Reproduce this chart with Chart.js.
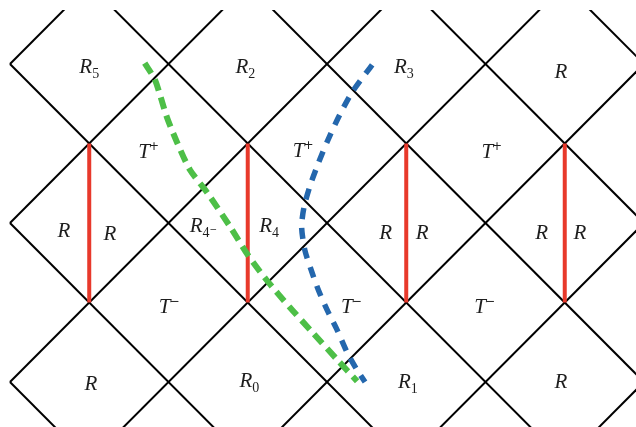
<!DOCTYPE html>
<html>
<head>
<meta charset="utf-8">
<script src="https://cdn.jsdelivr.net/npm/chart.js@4/dist/chart.umd.min.js"></script>
<style>
  html, body { margin: 0; padding: 0; background: #fff; }
  canvas { display: block; }
</style>
</head>
<body>
<canvas id="diagram" width="636" height="427"></canvas>
<script>
// grid units: 1 unit = half a diamond, vertices where x + y is even
const fallingLines = [0, 2, 4, 6, 8, 10, 12];   // x + y = s
const risingLines = [4, 2, 0, -2, -4, -6, -8];  // y - x = d
const horizonX = [1, 3, 5, 7];
const horizonSpan = [1, 3];

const greenX = [1.70, 1.83, 1.98, 2.11, 2.27, 2.49, 2.78, 3.00, 3.24, 3.53, 3.82, 4.13, 4.38];
const greenY = [4.01, 3.80, 3.33, 3.01, 2.67, 2.38, 1.95, 1.60, 1.28, 0.94, 0.62, 0.28, 0.01];
const blueX = [4.57, 4.32, 4.16, 4.01, 3.89, 3.79, 3.71, 3.68, 3.72, 3.80, 3.89, 4.00, 4.13, 4.26, 4.38, 4.48];
const blueY = [3.99, 3.65, 3.36, 3.04, 2.75, 2.48, 2.20, 1.95, 1.66, 1.41, 1.16, 0.91, 0.65, 0.36, 0.15, 0.00];

const labelText = ['R_5', 'R_2', 'R_3', 'R',
  'T^+', 'T^+', 'T^+',
  'R', 'R', 'R_4-', 'R_4', 'R', 'R', 'R', 'R',
  'T^-', 'T^-', 'T^-',
  'R', 'R_0', 'R_1', 'R'];
const labelX = [1.00, 2.97, 4.97, 6.95,
  1.73, 3.68, 6.06,
  0.68, 1.26, 2.44, 3.27, 4.74, 5.20, 6.71, 7.19,
  1.99, 4.29, 5.97,
  1.02, 3.02, 5.02, 6.95];
const labelY = [3.98, 3.98, 3.98, 3.91,
  2.91, 2.92, 2.91,
  1.91, 1.87, 1.97, 1.97, 1.89, 1.89, 1.89, 1.89,
  0.96, 0.96, 0.96,
  -0.01, 0.03, 0.01, 0.01];

const datasets = [];
fallingLines.forEach(s => {
  datasets.push({ data: [{ x: 0, y: s }, { x: s + 2, y: -2 }], borderColor: '#000', borderWidth: 2, order: 3 });
});
risingLines.forEach(d => {
  datasets.push({ data: [{ x: 0, y: d }, { x: 10, y: d + 10 }], borderColor: '#000', borderWidth: 2, order: 3 });
});
horizonX.forEach(x => {
  datasets.push({ data: horizonSpan.map(y => ({ x, y })), borderColor: '#e8392b', borderWidth: 4, order: 2 });
});
datasets.push({
  data: blueX.map((x, i) => ({ x, y: blueY[i] })),
  borderColor: '#2467ad', borderWidth: 5.5, borderDash: [11, 9], tension: 0.25, order: 1
});
datasets.push({
  data: greenX.map((x, i) => ({ x, y: greenY[i] })),
  borderColor: '#4dbf47', borderWidth: 6, borderDash: [12, 7], tension: 0.25, order: 0
});
datasets.forEach(ds => { ds.showLine = true; ds.pointRadius = 0; ds.fill = false; });

const labelPlugin = {
  id: 'regionLabels',
  afterDatasetsDraw(chart) {
    const { ctx, scales } = chart;
    const mainFont = 'italic 21px "Liberation Serif"';
    const subFont = '14px "Liberation Serif"';
    const supFont = '12px "DejaVu Sans"';
    const tinyFont = '9px "DejaVu Sans"';
    ctx.save();
    ctx.fillStyle = '#1e1e1e';
    ctx.textBaseline = 'alphabetic';
    labelText.forEach((t, i) => {
      const base = t[0];
      let sub = '', sup = '', subSup = '';
      if (t[1] === '_') {
        sub = t.slice(2);
        if (sub.endsWith('-')) { sub = sub.slice(0, -1); subSup = '\u2212'; }
      } else if (t[1] === '^') {
        sup = t[2] === '-' ? '\u2212' : t[2];
      }
      ctx.font = mainFont;
      const wBase = ctx.measureText(base).width;
      ctx.font = subFont;
      const wSub = ctx.measureText(sub).width;
      ctx.font = supFont;
      const wSup = sup ? ctx.measureText(sup).width * 0.6 : 0;
      ctx.font = tinyFont;
      const wSubSup = subSup ? ctx.measureText(subSup).width : 0;
      const total = wBase + wSub + wSup + wSubSup;
      const cx = scales.x.getPixelForValue(labelX[i]);
      const cy = scales.y.getPixelForValue(labelY[i]);
      let x = cx - total / 2;
      const baseline = cy + 7;
      ctx.font = mainFont;
      ctx.fillText(base, x, baseline);
      x += wBase;
      if (sub) {
        ctx.font = subFont;
        ctx.fillText(sub, x, baseline + 5);
        x += wSub;
      }
      if (subSup) {
        ctx.font = tinyFont;
        ctx.fillText(subSup, x, baseline);
      }
      if (sup) {
        ctx.font = supFont;
        ctx.fillText(sup, x - 1, baseline - 8);
      }
    });
    ctx.restore();
  }
};

new Chart(document.getElementById('diagram'), {
  type: 'scatter',
  data: { datasets },
  options: {
    responsive: false,
    animation: false,
    layout: { padding: { top: 10, left: 0, right: 0, bottom: 0 } },
    plugins: { legend: { display: false }, tooltip: { enabled: false } },
    scales: {
      x: { type: 'linear', display: false, min: -0.126, max: 7.899 },
      y: { type: 'linear', display: false, min: -0.566, max: 4.679 }
    }
  },
  plugins: [labelPlugin]
});
</script>
</body>
</html>
